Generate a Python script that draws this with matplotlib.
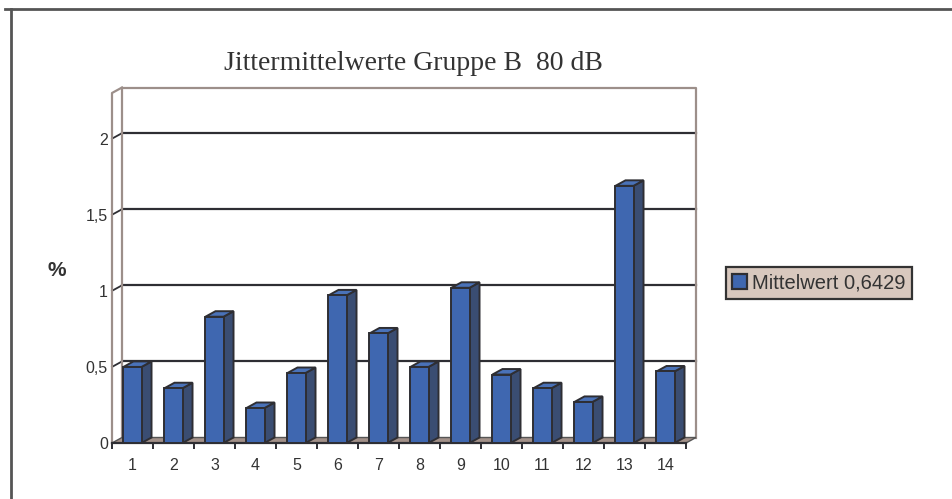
import matplotlib
matplotlib.use("Agg")
import matplotlib.pyplot as plt
from matplotlib.patches import Polygon, Patch
from matplotlib.lines import Line2D
import numpy as np

# data
categories = ["1", "2", "3", "4", "5", "6", "7", "8", "9", "10", "11", "12", "13", "14"]
mittelwert = [0.50, 0.36, 0.83, 0.23, 0.46, 0.97, 0.72, 0.50, 1.02, 0.45, 0.36, 0.27, 1.69, 0.47]
ytick_vals = [0, 0.5, 1, 1.5, 2]
ytick_labels = ["0", "0,5", "1", "1,5", "2"]
title = "Jittermittelwerte Gruppe B  80 dB"
legend_label = "Mittelwert 0,6429"

front = "#3F67B0"
side = "#3A4D72"
top = "#4A72B8"
edge = "#2E2E33"
wall = "#9C8F8A"
floor = "#A39189"
txt = "#333333"

W, H = 953, 499
fig = plt.figure(figsize=(W / 100, H / 100), dpi=100)
fig.patch.set_facecolor("white")

# axes = front plane of the 3d box
ax = fig.add_axes([112 / W, 56 / H, 574 / W, 350 / H])
n = len(categories)
x = np.arange(1, n + 1)
ymax = 2.3
ax.set_xlim(0.5, n + 0.5)
ax.set_ylim(0, ymax)
for s in ax.spines.values():
    s.set_visible(False)
ax.patch.set_alpha(0)

DX = 10 / 41.0          # depth offset in category units
DY = 5.5 / 152.5        # depth offset in value units
x0, x1 = 0.5, n + 0.5

# back wall gridlines
for v in ytick_vals[1:]:
    ax.plot([x0 + DX, x1 + DX], [v + DY, v + DY], color="#2E2E33", lw=1.6, zorder=1, clip_on=False)
    ax.plot([x0, x0 + DX], [v, v + DY], color="#2E2E33", lw=1.3, zorder=1, clip_on=False)

# walls outline
ax.plot([x0 + DX, x1 + DX, x1 + DX], [ymax + DY, ymax + DY, DY], color=wall, lw=1.6, zorder=1, clip_on=False)
ax.plot([x0 + DX, x0 + DX], [DY, ymax + DY], color=wall, lw=1.6, zorder=1, clip_on=False)
ax.plot([x0, x0, x0 + DX], [0, ymax, ymax + DY], color=wall, lw=1.6, zorder=1, clip_on=False)

# floor
ax.add_patch(Polygon([(x0, 0), (x1, 0), (x1 + DX, DY), (x0 + DX, DY)], closed=True,
                     facecolor=floor, edgecolor="#555555", lw=1.0, zorder=2, clip_on=False))
ax.plot([x0, x1], [0, 0], color="#2E2E33", lw=1.6, zorder=2, clip_on=False)

# bars: front faces through ax.bar, side and top faces as polygons
bw = 0.44
bars = ax.bar(x, mittelwert, width=bw, color=front, edgecolor=edge, linewidth=1.4, zorder=4)
for xi, v in zip(x, mittelwert):
    l, r = xi - bw / 2, xi + bw / 2
    ax.add_patch(Polygon([(r, 0), (r + DX, DY), (r + DX, v + DY), (r, v)], closed=True,
                         facecolor=side, edgecolor=edge, lw=1.4, zorder=3, clip_on=False))
    ax.add_patch(Polygon([(l, v), (r, v), (r + DX, v + DY), (l + DX, v + DY)], closed=True,
                         facecolor=top, edgecolor=edge, lw=1.4, zorder=3, clip_on=False))

# ticks
ax.set_yticks(ytick_vals)
ax.set_yticklabels(ytick_labels)
ax.set_xticks(x)
ax.set_xticklabels(categories)
ax.set_xticks(np.arange(0.5, n + 1, 1.0), minor=True)
ax.tick_params(axis="y", length=0, pad=3, labelsize=11.5, labelcolor=txt)
ax.tick_params(axis="x", which="major", length=0, pad=11, labelsize=11.5, labelcolor=txt)
ax.tick_params(axis="x", which="minor", length=4.5, width=1.4, color="#2E2E33", direction="out")
for t in ax.get_xticklabels() + ax.get_yticklabels():
    t.set_fontfamily("Liberation Sans")

# title and axis label
fig.text(413 / W, 1 - 64 / H, title, ha="center", va="center", fontsize=20,
         family="Liberation Serif", color=txt)
fig.text(57 / W, 1 - 270 / H, "%", ha="center", va="center", fontsize=15,
         fontweight="bold", family="Liberation Sans", color=txt)

# legend
handle = Patch(facecolor=front, edgecolor=edge, linewidth=1.6)
leg = fig.legend([handle], [legend_label], loc="center",
                 bbox_to_anchor=(819 / W, 1 - 283 / H), fancybox=False,
                 prop={"family": "Liberation Sans", "size": 14.5},
                 handlelength=0.75, handleheight=0.75, handletextpad=0.25,
                 borderpad=0.3, borderaxespad=0)
leg.get_frame().set_facecolor("#D8C8BE")
leg.get_frame().set_edgecolor("#333333")
leg.get_frame().set_linewidth(1.6)
leg.get_frame().set_alpha(1)
for t in leg.get_texts():
    t.set_color(txt)

# outer frame (top and left edges visible)
fig.add_artist(Line2D([5 / W, 1], [1 - 9 / H, 1 - 9 / H], transform=fig.transFigure, color="#555555", lw=2))
fig.add_artist(Line2D([11 / W, 11 / W], [1 - 9 / H, 0], transform=fig.transFigure, color="#555555", lw=2))

fig.savefig("out.png", dpi=100)
